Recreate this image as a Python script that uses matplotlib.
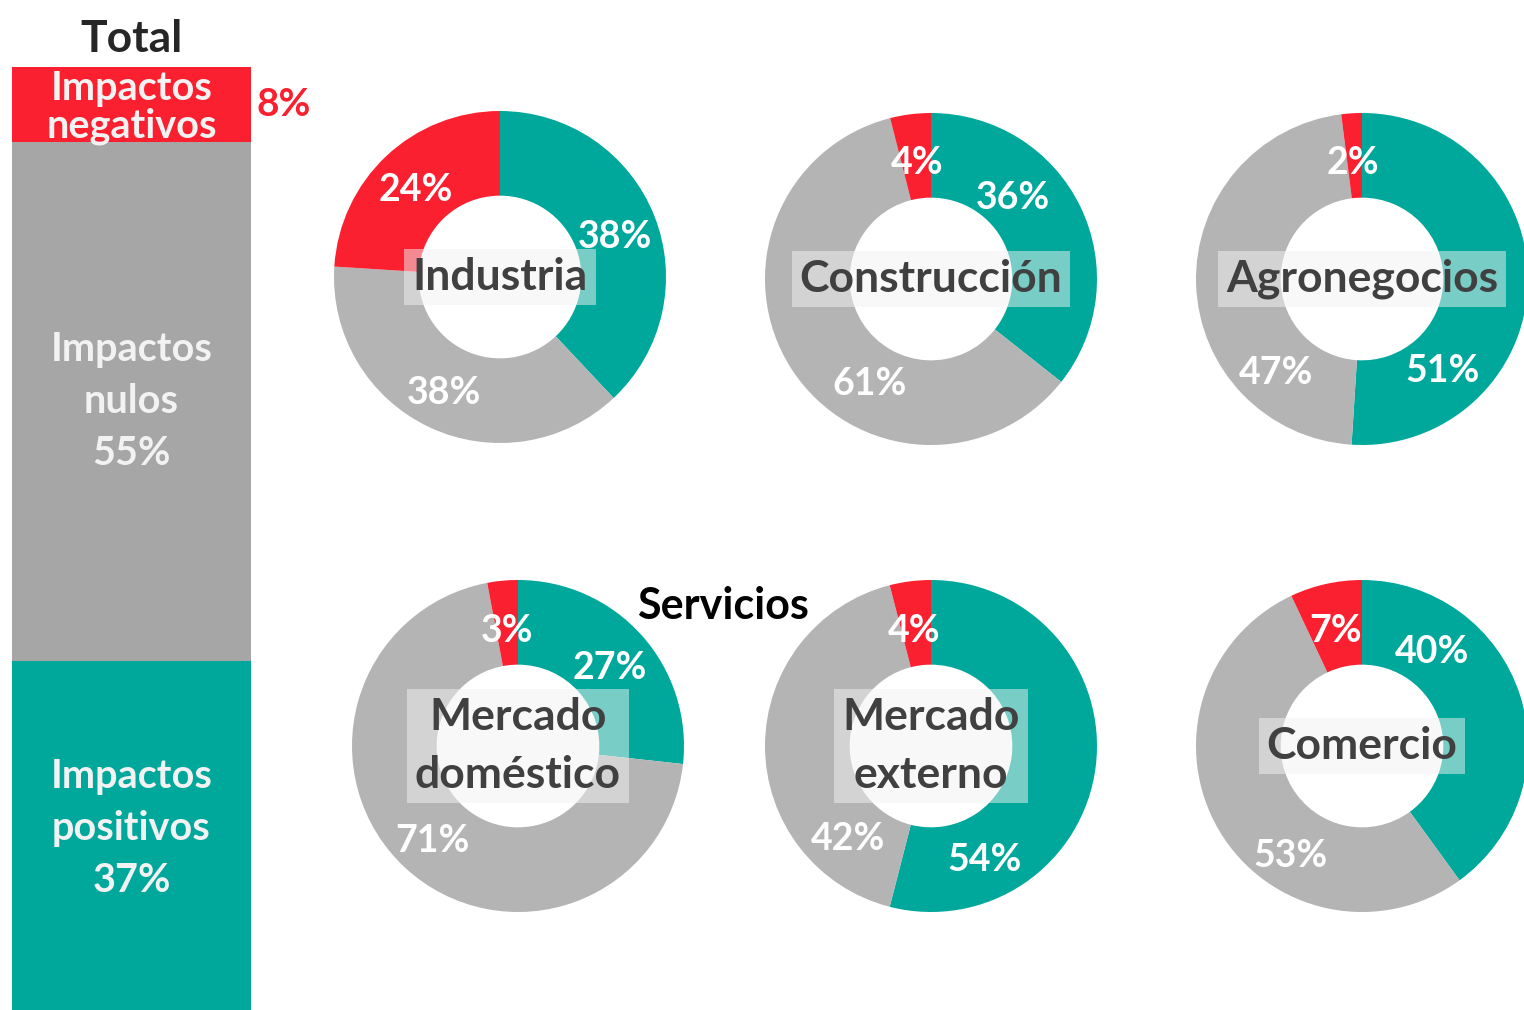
import numpy as np
import matplotlib.pyplot as plt

plt.rcParams['font.family'] = ['Lato', 'DejaVu Sans']
plt.rcParams['font.weight'] = 'bold'

# total bar (bottom to top)
total_labels = ['Impactos\npositivos\n37%', 'Impactos\nnulos\n55%', 'Impactos\nnegativos']
total_values = [37, 55, 8]

# sectors
sectors = ['Industria', 'Construcción', 'Agronegocios',
           'Mercado\ndoméstico', 'Mercado\nexterno', 'Comercio']
positivos = [38, 36, 51, 27, 54, 40]
nulos = [38, 61, 47, 71, 42, 53]
negativos = [24, 4, 2, 3, 4, 7]

TEAL = '#00A89C'
GRAY = '#B4B4B4'
BAR_GRAY = '#A6A6A6'
RED = '#FA2030'
DARK = '#404040'

W, H = 1524, 1010
R = 166
fig = plt.figure(figsize=(W / 100, H / 100), dpi=100)


def px_axes(x0, y0, x1, y1):
    return fig.add_axes([x0 / W, 1 - y1 / H, (x1 - x0) / W, (y1 - y0) / H])


# --- total stacked bar
ax = px_axes(12, 67, 251, 1010)
bottoms = np.cumsum([0] + total_values[:-1])
ax.bar([0] * 3, total_values, bottom=bottoms, width=1,
       color=[TEAL, BAR_GRAY, RED])
ax.set_xlim(-0.5, 0.5)
ax.set_ylim(0, 100)
ax.axis('off')
ax.set_title('Total', fontsize=32, fontweight='bold', color='#262626', pad=11)

spacing = [1.5, 1.5, 1.0]
shift = [5, 0, -2]   # points, nudges the label vertically
for lab, b, v, ls, s in zip(total_labels, bottoms, total_values, spacing, shift):
    ax.annotate(lab, xy=(0, b + v / 2), xytext=(0, s), textcoords='offset points',
                ha='center', va='center', fontsize=28.5, color='#F2F2F2',
                linespacing=ls)
ax.annotate(f'{total_values[-1]}%', xy=(0.5, bottoms[-1] + total_values[-1] / 2),
            xytext=(4, 0), textcoords='offset points', ha='left', va='center',
            fontsize=28, color=RED)

# --- donuts
centers = [(500, 277), (931, 279), (1362, 279),
           (518, 746), (931, 746), (1362, 746)]
# label offsets from the donut centre (pixels, y down) for pos / nulos / neg
label_offsets = [
    [(115, -43), (-56, 113), (-84, -90)],
    [(82, -84), (-61, 102), (-14, -119)],
    [(81, 89), (-86, 91), (-9, -119)],
    [(92, -81), (-86, 92), (-11, -118)],
    [(54, 111), (-83, 90), (-17, -118)],
    [(70, -97), (-71, 107), (-26, -118)],
]

for name, (cx, cy), p, n, g, offs in zip(sectors, centers, positivos, nulos,
                                         negativos, label_offsets):
    a = px_axes(cx - R, cy - R, cx + R, cy + R)
    vals = [p, n, g]
    a.pie(vals, colors=[TEAL, GRAY, RED], startangle=90,
          counterclock=False, radius=1,
          wedgeprops=dict(width=0.51, edgecolor='none'))
    a.set_xlim(-1, 1)
    a.set_ylim(-1, 1)
    for v, (dx, dy) in zip(vals, offs):
        a.text(dx / R, -(dy + 3) / R, f'{v}%', ha='center', va='center',
               fontsize=27, color='white')
    a.text(0, 0, name, ha='center', va='center', fontsize=32, color=DARK,
           linespacing=1.55,
           bbox=dict(boxstyle='square,pad=0.18', facecolor='#F2F2F2',
                     alpha=0.5, edgecolor='none'))

fig.text(723 / W, 1 - 606 / H, 'Servicios', ha='center', va='center',
         fontsize=31, color='black')

fig.savefig('out.png', dpi=100)
